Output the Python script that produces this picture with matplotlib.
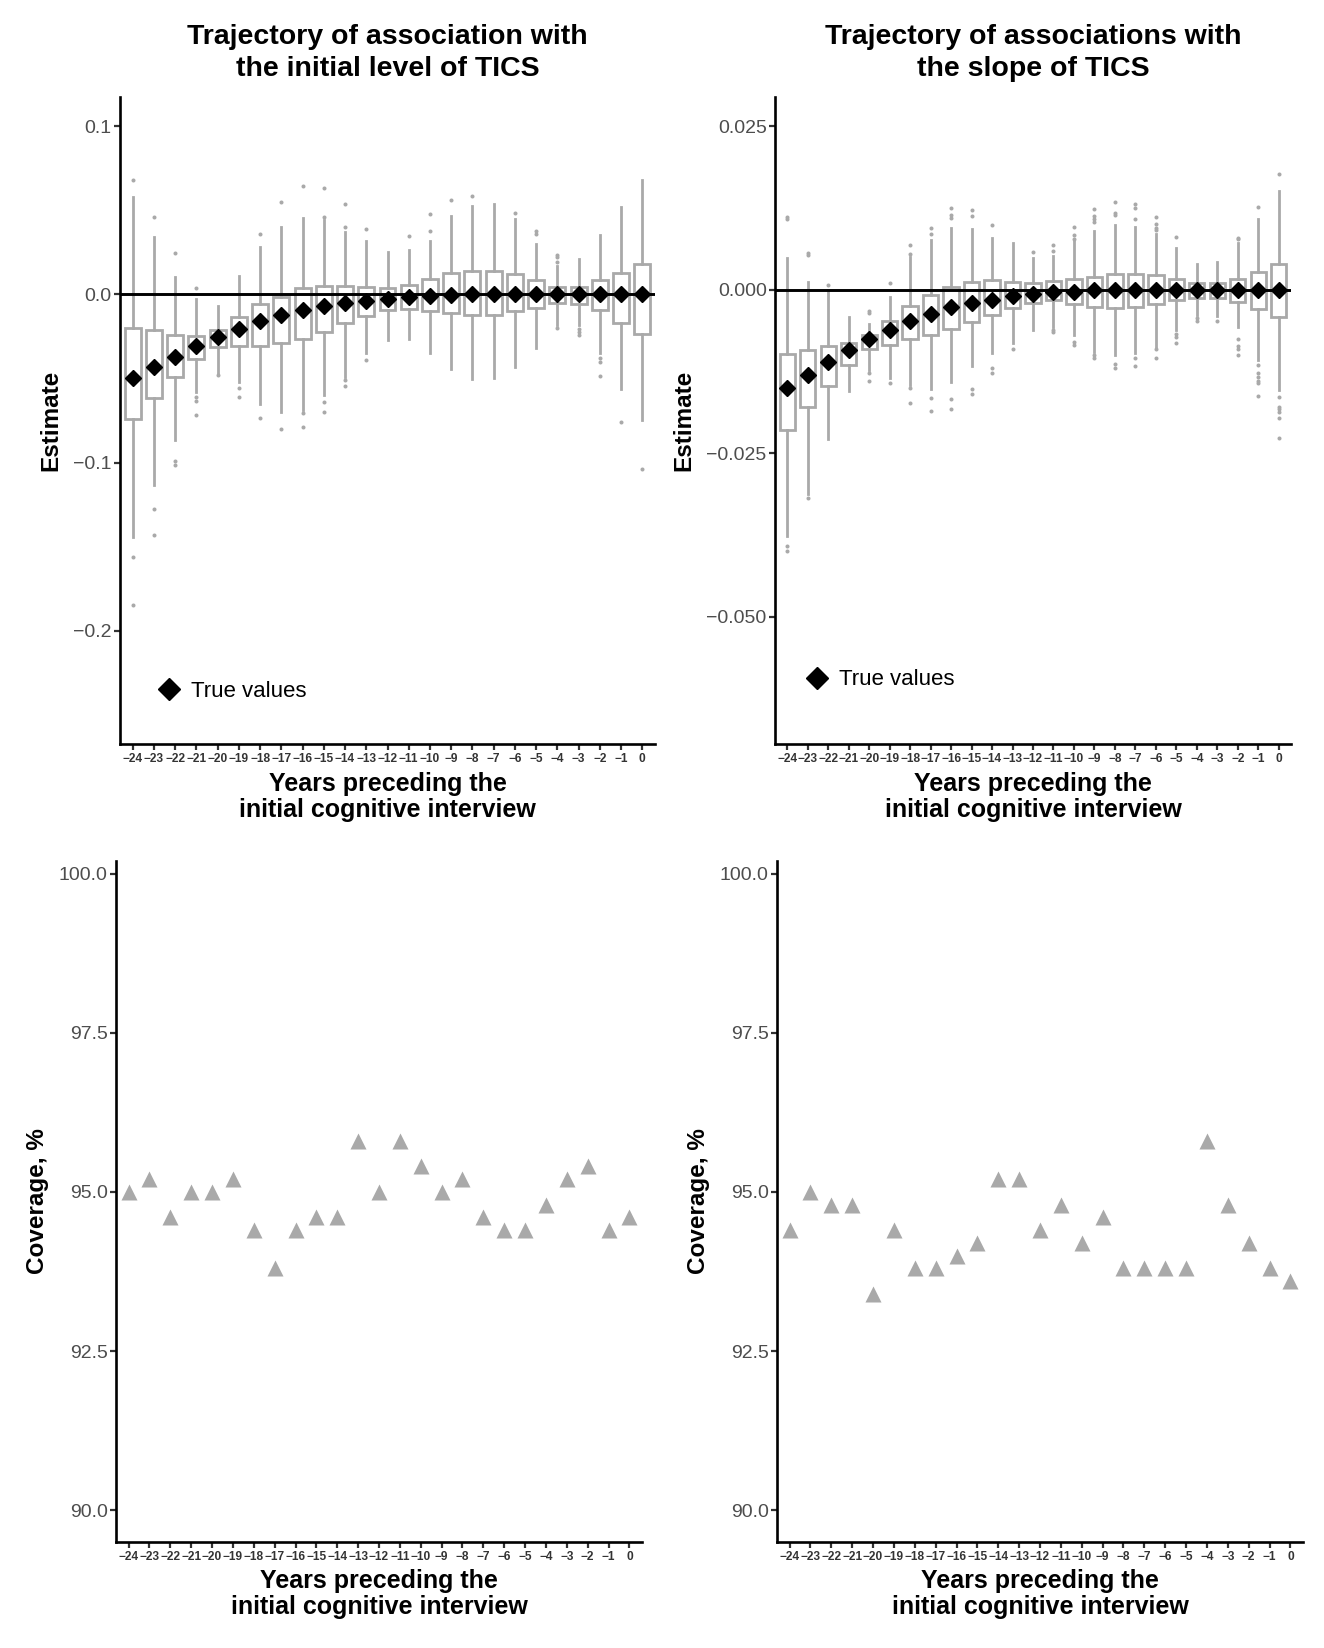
import matplotlib
matplotlib.use("Agg")
import matplotlib.pyplot as plt
from matplotlib.lines import Line2D

plt.rcParams['font.family'] = ['Liberation Sans', 'DejaVu Sans']

# ---------------- data ----------------
years = list(range(-24, 1))
year_labels = [("\u2212%d" % -y) if y < 0 else "0" for y in years]

# Top-left: association with initial level of TICS
level_true = [-0.0500, -0.0434, -0.0373, -0.0308, -0.0252, -0.0203, -0.0158, -0.0124, -0.0091,
              -0.0071, -0.0049, -0.0037, -0.0026, -0.0016, -0.0010, -0.0005, 0.0, 0.0, 0.0,
              0.0, 0.0, 0.0, 0.0, 0.0, 0.0]
level_q1 = [-0.0742, -0.0617, -0.0493, -0.0387, -0.0312, -0.0308, -0.0308, -0.0288, -0.0264,
            -0.0223, -0.0168, -0.0130, -0.0095, -0.0087, -0.0099, -0.0110, -0.0120, -0.0120,
            -0.0101, -0.0081, -0.0051, -0.0055, -0.0095, -0.0168, -0.0233]
level_q3 = [-0.0197, -0.0213, -0.0239, -0.0245, -0.0213, -0.0134, -0.0055, -0.0016, 0.0036,
            0.0053, 0.0053, 0.0047, 0.0039, 0.0059, 0.0093, 0.0128, 0.0138, 0.0138, 0.0122,
            0.0087, 0.0047, 0.0047, 0.0089, 0.0128, 0.0182]
level_whishi = [0.0580, 0.0343, 0.0103, -0.0026, -0.0071, 0.0110, 0.0284, 0.0402, 0.0454,
                0.0442, 0.0371, 0.0316, 0.0250, 0.0264, 0.0316, 0.0466, 0.0525, 0.0540, 0.0448,
                0.0300, 0.0172, 0.0209, 0.0353, 0.0521, 0.0684]
level_whislo = [-0.1446, -0.1132, -0.0868, -0.0578, -0.0466, -0.0520, -0.0651, -0.0700, -0.0686,
                -0.0598, -0.0489, -0.0351, -0.0272, -0.0268, -0.0347, -0.0446, -0.0505, -0.0499,
                -0.0434, -0.0316, -0.0183, -0.0183, -0.0351, -0.0564, -0.0746]
level_outliers = [
    [0.0679, -0.156, -0.185], [0.046, -0.1278, -0.1432], [0.0245, -0.0992, -0.1017],
    [0.0037, -0.0608, -0.0631, -0.072], [-0.048], [-0.0555, -0.0612], [0.0359, -0.0738],
    [0.0548, -0.0803], [0.0643, -0.0704, -0.0791], [0.0458, 0.0635, -0.0637, -0.070],
    [0.0402, 0.054, -0.0509, -0.0544], [0.0392, -0.0392], [], [0.0349], [0.0375, 0.0481],
    [0.0564], [0.0584], [], [0.0485], [0.0359, 0.0379], [0.0193, 0.0221, 0.0237, -0.0199],
    [-0.0205, -0.0225, -0.0243], [-0.038, -0.040, -0.0485], [-0.0761], [-0.1037]]

# Top-right: association with slope of TICS
slope_true = [-0.0151, -0.0130, -0.0111, -0.0092, -0.0076, -0.0061, -0.0048, -0.0037, -0.0027,
              -0.0020, -0.0015, -0.0010, -0.0007, -0.0004, -0.0003, -0.0001, 0.0, 0.0, 0.0,
              0.0, 0.0, 0.0, 0.0, 0.0, 0.0]
slope_q1 = [-0.0215, -0.0180, -0.0147, -0.0115, -0.00913, -0.00847, -0.0076, -0.00695, -0.00594,
            -0.00493, -0.0038, -0.00274, -0.0020, -0.0016, -0.0021, -0.0026, -0.00274, -0.0026,
            -0.00223, -0.0016, -0.0013, -0.0013, -0.0018, -0.0029, -0.0041]
slope_q3 = [-0.00984, -0.00924, -0.00863, -0.00807, -0.00695, -0.00477, -0.00254, -0.00087,
            0.0005, 0.00116, 0.00152, 0.00116, 0.0010, 0.00127, 0.00167, 0.0020, 0.00243,
            0.00243, 0.00228, 0.00167, 0.0010, 0.0010, 0.00167, 0.0027, 0.0040]
slope_whishi = [0.00487, 0.00116, 0.0000, -0.00416, -0.00518, -0.00112, 0.00507, 0.0076, 0.0094,
                0.0093, 0.0079, 0.0071, 0.0049, 0.0052, 0.0075, 0.0090, 0.0099, 0.0096, 0.0086,
                0.0064, 0.0039, 0.0042, 0.0071, 0.0108, 0.0151]
slope_whislo = [-0.0377, -0.0313, -0.0228, -0.0155, -0.0122, -0.01354, -0.0146, -0.0152, -0.0141,
                -0.0117, -0.00964, -0.0081, -0.0062, -0.0057, -0.0069, -0.0095, -0.0100, -0.0097,
                -0.0087, -0.0061, -0.0039, -0.0040, -0.0057, -0.0107, -0.0154]
slope_outliers = [
    [0.0108, 0.0112, -0.0392, -0.0399], [0.0054, 0.0057, -0.0318], [0.0007], [],
    [-0.0032, -0.0036, -0.0128, -0.0139], [0.0010, -0.0143], [0.0055, 0.0068, -0.0151, -0.0173],
    [0.0086, 0.0095, -0.0166, -0.0186], [0.0110, 0.0115, 0.0125, -0.0167, -0.0182],
    [0.0113, 0.0122, -0.0152, -0.0159], [0.0099, -0.0120, -0.0128], [-0.0091], [0.0058],
    [0.0060, 0.0068, -0.0061, -0.0064], [0.0077, 0.0084, 0.0096, -0.0080, -0.0085],
    [0.0103, 0.0108, 0.0113, 0.0123, -0.0100, -0.0104], [0.0115, 0.0118, 0.0134, -0.0113, -0.0119],
    [0.0109, 0.0125, 0.0131, -0.0104, -0.0116], [0.0091, 0.0095, 0.0101, 0.0112, -0.0090, -0.0105],
    [0.0081, -0.0067, -0.0072, -0.0082], [-0.0043, -0.0048], [-0.0048],
    [0.0077, 0.0080, -0.0075, -0.0086, -0.0091, -0.0100],
    [0.0127, -0.0115, -0.0127, -0.0133, -0.0139, -0.0142, -0.0163],
    [0.0177, -0.0164, -0.0179, -0.0183, -0.0187, -0.0196, -0.0227]]

# Bottom: coverage (%)
coverage_level = [95.0, 95.2, 94.6, 95.0, 95.0, 95.2, 94.4, 93.8, 94.4, 94.6, 94.6, 95.8, 95.0,
                  95.8, 95.4, 95.0, 95.2, 94.6, 94.4, 94.4, 94.8, 95.2, 95.4, 94.4, 94.6]
coverage_slope = [94.4, 95.0, 94.8, 94.8, 93.4, 94.4, 93.8, 93.8, 94.0, 94.2, 95.2, 95.2, 94.4,
                  94.8, 94.2, 94.6, 93.8, 93.8, 93.8, 93.8, 95.8, 94.8, 94.2, 93.8, 93.6]

level_ticks = [0.1, 0.0, -0.1, -0.2]
level_ticklabels = ["0.1", "0.0", "\u22120.1", "\u22120.2"]
slope_ticks = [0.025, 0.0, -0.025, -0.05]
slope_ticklabels = ["0.025", "0.000", "\u22120.025", "\u22120.050"]
cov_ticks = [90.0, 92.5, 95.0, 97.5, 100.0]
cov_ticklabels = ["90.0", "92.5", "95.0", "97.5", "100.0"]

titles = ["Trajectory of association with\nthe initial level of TICS",
          "Trajectory of associations with\nthe slope of TICS"]
xlabel = "Years preceding the\ninitial cognitive interview"

# ---------------- figure ----------------
W, H = 1324, 1648
fig = plt.figure(figsize=(W / 100, H / 100), dpi=100)
GREY = "#A9A9A9"
TICKC = "#333333"


def add_ax(x0, x1, ytop, ybot):
    return fig.add_axes([x0 / W, 1 - ybot / H, (x1 - x0) / W, (ybot - ytop) / H])


def style(ax, yticks, ylabels):
    for s in ["top", "right"]:
        ax.spines[s].set_visible(False)
    for s in ["left", "bottom"]:
        ax.spines[s].set_linewidth(1.9)
        ax.spines[s].set_color("black")
    pos = list(range(len(years)))
    ax.set_xticks(pos)
    ax.set_xticklabels(year_labels, fontsize=8.6, fontweight="bold", color=TICKC)
    ax.set_xlim(-0.6, len(years) - 0.4)
    ax.set_yticks(yticks)
    ax.set_yticklabels(ylabels, fontsize=14, color="#4D4D4D")
    ax.tick_params(axis="both", length=4, width=1.6, color=TICKC, pad=2)
    ax.tick_params(axis="x", pad=2.5)


def boxpanel(ax, true, q1, q3, hi, lo, outl, ylim, yticks, ylabels):
    stats = []
    for i in range(len(years)):
        stats.append(dict(med=true[i], q1=q1[i], q3=q3[i], whislo=lo[i], whishi=hi[i],
                          fliers=outl[i]))
    pos = list(range(len(years)))
    ax.bxp(stats, positions=pos, widths=0.75, showcaps=False, patch_artist=True,
           boxprops=dict(facecolor="white", edgecolor=GREY, linewidth=2.0),
           whiskerprops=dict(color=GREY, linewidth=2.0),
           medianprops=dict(color=GREY, linewidth=2.0),
           flierprops=dict(marker="o", markersize=2.9, markerfacecolor=GREY,
                           markeredgecolor="none"),
           zorder=2)
    ax.axhline(0, color="black", linewidth=2.1, zorder=3)
    ax.plot(pos, true, linestyle="none", marker="D", markersize=8.5, color="black",
            zorder=4, label="True values")
    ax.set_ylim(*ylim)
    style(ax, yticks, ylabels)
    ax.set_ylabel("Estimate", fontsize=17.5, fontweight="bold", labelpad=8)


def covpanel(ax, cov):
    pos = list(range(len(years)))
    ax.plot(pos, cov, linestyle="none", marker="^", markersize=11.5, color=GREY,
            markeredgecolor="none", zorder=3)
    ax.set_ylim(89.5, 100.2)
    style(ax, cov_ticks, cov_ticklabels)
    ax.set_ylabel("Coverage, %", fontsize=17.5, fontweight="bold", labelpad=7)


ax1 = add_ax(120, 655, 97, 744)
boxpanel(ax1, level_true, level_q1, level_q3, level_whishi, level_whislo, level_outliers,
         (-0.2675, 0.1175), level_ticks, level_ticklabels)
ax2 = add_ax(775, 1291, 97, 744)
boxpanel(ax2, slope_true, slope_q1, slope_q3, slope_whishi, slope_whislo, slope_outliers,
         (-0.0695, 0.0295), slope_ticks, slope_ticklabels)
ax3 = add_ax(116, 642, 861, 1542)
covpanel(ax3, coverage_level)
ax4 = add_ax(777, 1303, 861, 1542)
covpanel(ax4, coverage_slope)

# legends
for ax, (lx, ly) in [(ax1, (0.071, 0.081)), (ax2, (0.060, 0.099))]:
    h = Line2D([], [], linestyle="none", marker="D", markersize=11, color="black")
    ax.legend([h], ["True values"], loc="center left", bbox_to_anchor=(lx, ly),
              frameon=False, fontsize=16, handlelength=1.0, handletextpad=0.5,
              borderpad=0, borderaxespad=0)

# titles
for ax, t in [(ax1, titles[0]), (ax2, titles[1])]:
    bb = ax.get_position()
    fig.text((bb.x0 + bb.x1) / 2, 1 - 53 / H, t, ha="center", va="center",
             fontsize=20.5, fontweight="bold", linespacing=1.25)

# x labels
for ax, yc in [(ax1, 797), (ax2, 797), (ax3, 1594), (ax4, 1594)]:
    bb = ax.get_position()
    fig.text((bb.x0 + bb.x1) / 2, 1 - yc / H, xlabel, ha="center", va="center",
             fontsize=18, fontweight="bold", linespacing=1.12)

fig.savefig("out.png", dpi=100, facecolor="white")
